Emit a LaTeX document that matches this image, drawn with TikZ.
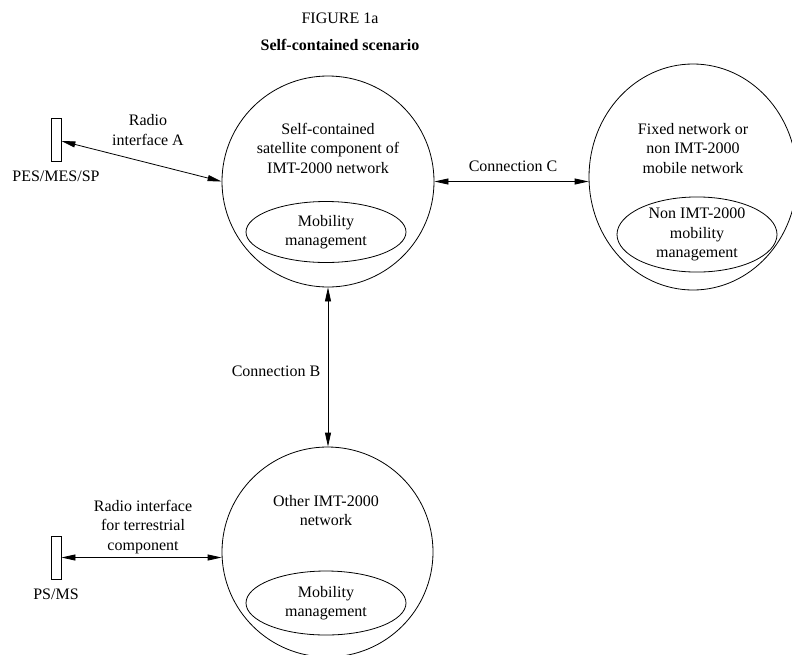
\documentclass[tikz,border=0pt]{standalone}
\usepackage{fontspec}
\setmainfont{Liberation Serif}
\usetikzlibrary{arrows.meta,shapes.geometric}
\begin{document}
\begin{tikzpicture}[x=1pt,y=-1pt,
  every node/.style={font=\fontsize{16}{19.5}\selectfont, align=center, inner sep=0pt},
  net/.style={draw, line width=0.8pt, ellipse, minimum width=#1},
  mm/.style={draw, line width=0.8pt, ellipse},
  term/.style={draw, line width=0.8pt, rectangle, minimum width=10pt, minimum height=43pt},
  link/.style={line width=0.8pt, {Triangle[length=14pt,width=6pt]}-{Triangle[length=14pt,width=6pt]}}]
\useasboundingbox (0,0) rectangle (792,654);

% titles
\node (fig) at (340,18) {FIGURE 1a};
\node (sub) at (340,45) {\bfseries Self-contained scenario};

% self-contained satellite network
\node[net=212pt, minimum height=211pt] (sat) at (328,181.5) {};
\node (sattxt) at (328,148) {Self-contained\\satellite component of\\IMT-2000 network};
\node[mm, minimum width=160pt, minimum height=61pt] (satmm) at (326,232) {Mobility\\management};

% fixed / non IMT-2000 network (runs slightly past the right margin)
\node[net=208pt, minimum height=226pt] (fixed) at (693,177) {};
\node (fixedtxt) at (693,148.5) {Fixed network or\\non IMT-2000\\mobile network};
\node[mm, minimum width=160pt, minimum height=72pt] (fixedmm) at (697,234.5) {Non IMT-2000\\mobility\\management};

% other IMT-2000 network
\node[net=211pt, minimum height=210pt] (other) at (327.5,552) {};
\node (othertxt) at (326,510.5) {Other IMT-2000\\network};
\node[mm, minimum width=160pt, minimum height=64pt] (othermm) at (326,603) {Mobility\\management};

% terminals
\node[term] (pes) at (56,139.5) {};
\node (pestxt) at (56,176) {PES/MES/SP};
\node[term] (ps) at (56,557.5) {};
\node (pstxt) at (56,594) {PS/MS};

% connections
\draw[link] ([yshift=-1.5pt]pes.east) -- (sat.west);
\node (ra) at (148,130) {Radio\\interface A};

\draw[link] (sat.east) -- (sat.east -| fixed.west);
\node (cc) at (513,166) {Connection C};

\draw[link] (sat.south) -- (other.north -| sat.south);
\node (cb) at (276,371) {Connection B};

\draw[link] (ps.east) -- (ps.east -| other.west);
\node (rt) at (143,527) {Radio interface\\for terrestrial\\component};
\end{tikzpicture}
\end{document}
